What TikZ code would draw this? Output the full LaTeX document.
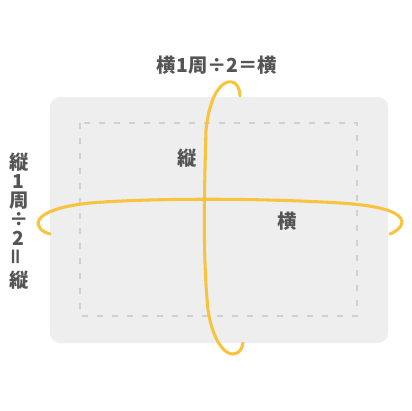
\documentclass[tikz,border=0pt]{standalone}
\usepackage{fontspec}
\usepackage{graphicx}
\newfontfamily\cjk{Noto Sans CJK JP}
\definecolor{gbox}{HTML}{EEEEEE}
\definecolor{gdash}{HTML}{D0D0D0}
\definecolor{yarc}{HTML}{F8C43E}
\definecolor{tlab}{HTML}{555555}

\begin{document}
\begin{tikzpicture}[x=0.75pt, y=-0.75pt,
        yloop/.style={draw=yarc, line width=2.3pt, line cap=round},
        lab/.style={text=tlab, inner sep=0pt, font=\cjk\bfseries\fontsize{14.5}{16}\selectfont}
    ]
    \useasboundingbox (0,0) rectangle (411,411);

    % sheet and fold line
    \fill[gbox, rounded corners=7.5pt] (50,97) rectangle (388,343);
    \draw[gdash, line width=2pt, dash pattern=on 4.5pt off 6.75pt] (80,123) rectangle (357,316);

    % loops of the tape
    \draw[yloop] (50,234) .. controls (34,230) and (24,210) .. (90,203)
        .. controls (150,198) and (260,198) .. (340,203)
        .. controls (420,208) and (405,228) .. (390,234);
    \draw[yloop] (240,96) .. controls (240,74) and (212,72) .. (206,130)
        .. controls (204,200) and (203,260) .. (208,310)
        .. controls (216,360) and (240,362) .. (243,343);

    % labels
    \node[lab] (top) at (217,65) {横1周÷2＝横};
    \node[lab, align=center, text width=1.2em] (side) at (18,221)
        {\baselineskip=14.3pt 縦\\1\\周\\÷\\2\\\rotatebox{90}{＝}\\縦};
    \node[lab] (tate) at (187,158) {縦};
    \node[lab] (yoko) at (287,221) {横};
\end{tikzpicture}
\end{document}
